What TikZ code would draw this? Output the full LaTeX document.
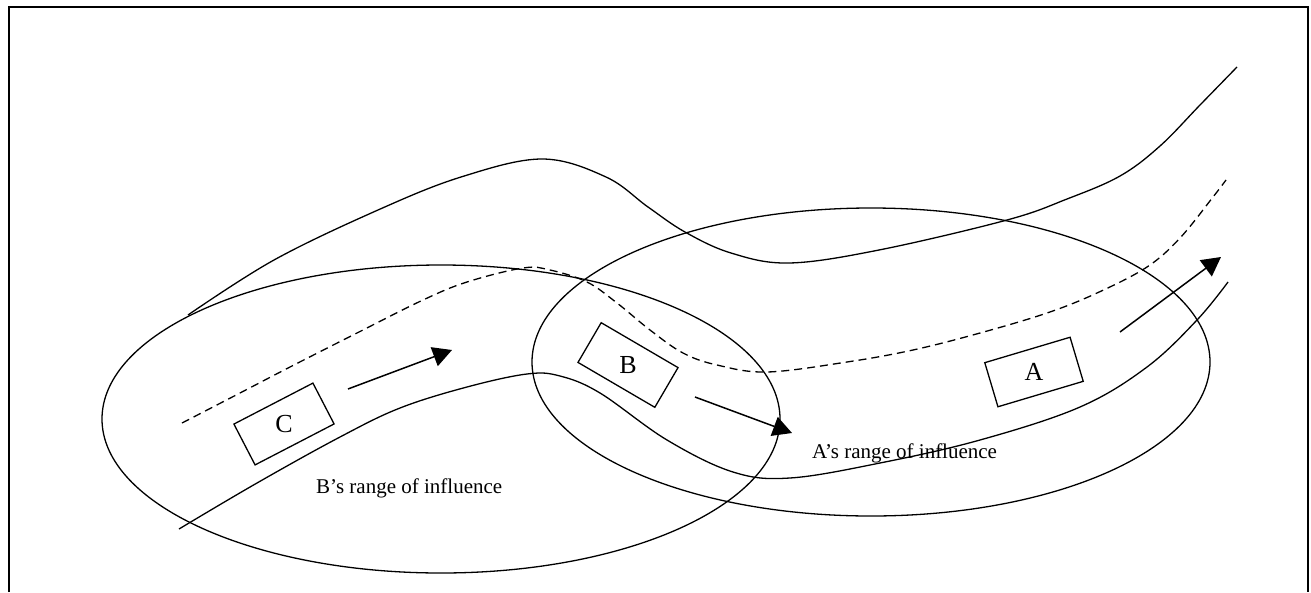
\documentclass[tikz,border=0pt]{standalone}
\usepackage{fontspec}
\setmainfont{Liberation Serif}
\usetikzlibrary{arrows.meta}
\begin{document}
\begin{tikzpicture}[x=1pt,y=-1pt,
  road/.style={line width=1.3pt, line join=round},
  zone/.style={line width=1.3pt},
  centre/.style={line width=1.3pt, dash pattern=on 8pt off 5pt},
  car/.style={draw, line width=1.3pt, minimum width=89pt, minimum height=46pt, inner sep=0pt},
  carname/.style={font=\fontsize{26}{26}\selectfont, inner sep=0pt},
  rangelbl/.style={font=\fontsize{21}{21}\selectfont, inner sep=0pt, anchor=base west},
  move/.style={line width=1.5pt, -{Triangle[length=19pt,width=20pt]}},
  frame/.style={line width=2pt}]
\useasboundingbox (0,0) rectangle (1311,592);
% frame (bottom edge lies outside the picture)
\draw[frame] (9,592) -- (9,7) -- (1308,7) -- (1308,592);

% ranges of influence
\draw[zone] (441,419) ellipse [x radius=339pt, y radius=154pt];
\draw[zone] (871,362) ellipse [x radius=339pt, y radius=154pt];

% road edges
\draw[road] plot[smooth, tension=0.6] coordinates {
  (188,315) (274,260) (378,210) (461,177) (542,159) (606,177) (648,207)
  (685,232) (731,253) (789,263) (879,250) (1007,220) (1067,199) (1120,176)
  (1160,146) (1200,105) (1237,67)};
\draw[road] plot[smooth, tension=0.6] coordinates {
  (179,529) (257,483) (340,437) (400,408) (467,387) (527,374) (560,376)
  (600,393) (667,440) (733,472) (790,478) (880,463) (980,440) (1080,407)
  (1147,367) (1197,320) (1228,282)};
% centre line
\draw[centre] plot[smooth, tension=0.6] coordinates {
  (182,423) (240,393) (290,367) (357,333) (423,300) (467,282) (523,268)
  (550,270) (587,282) (617,303) (650,330) (683,353) (717,365) (767,372)
  (847,362) (913,350) (980,333) (1047,313) (1097,293) (1147,267) (1180,238)
  (1213,197) (1226,180)};

% cars
\node[car, rotate=27.4] (C) at (284,424) {};
\node[carname] (Cname) at (C) {C};
\node[car, rotate=-30.3] (B) at (628,365) {};
\node[carname] (Bname) at (B) {B};
\node[car, rotate=16.6] (A) at (1034,372) {};
\node[carname] (Aname) at (A) {A};

% motion arrows
\coordinate (c0) at (348,389);
\coordinate (c1) at (452,350);
\coordinate (b0) at (695,397);
\coordinate (b1) at (792,433);
\coordinate (a0) at (1120,332);
\coordinate (a1) at (1221,257);
\draw[move] (c0) -- (c1);
\draw[move] (b0) -- (b1);
\draw[move] (a0) -- (a1);

% labels
\node[rangelbl] (Blbl) at (316,493) {B’s range of influence};
\node[rangelbl] (Albl) at (812,458) {A’s range of influence};
\end{tikzpicture}
\end{document}
